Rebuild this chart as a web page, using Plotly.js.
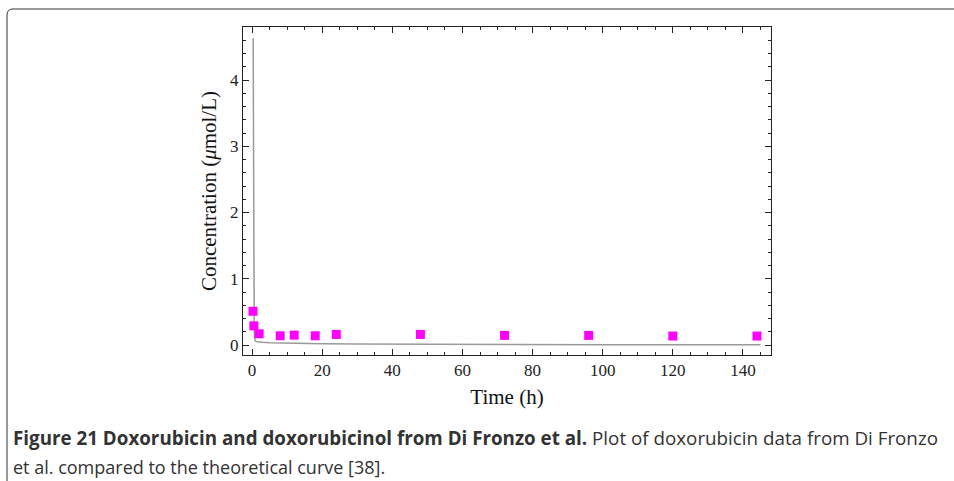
<!DOCTYPE html>
<html>
<head>
<meta charset="utf-8">
<script src="https://cdn.plot.ly/plotly-3.0.1.min.js"></script>
<style>html,body{margin:0;padding:0;background:#fff;}#chart{width:954px;height:481px;}</style>
</head>
<body>
<div id="chart"></div>
<script>
// Observed data (time in h, concentration in µmol/L)
const dataTime = [0.25, 0.5, 2, 8, 12, 18, 24, 48, 72, 96, 120, 144];
const dataConc = [0.51, 0.29, 0.17, 0.14, 0.15, 0.14, 0.16, 0.16, 0.146, 0.146, 0.136, 0.136];

// Theoretical curve
const curveTime = [0.3, 0.35, 0.4, 0.45, 0.5, 0.6, 0.8, 1, 1.5, 2, 3, 5, 8, 12, 20, 30, 45, 60, 80, 100, 120, 145];
const curveConc = [4.63, 3.2, 2.0, 1.1, 0.6, 0.2, 0.08, 0.058, 0.05, 0.046, 0.041, 0.036, 0.031, 0.027, 0.021, 0.016, 0.012, 0.009, 0.007, 0.005, 0.004, 0.003];

const xTicks = [0, 20, 40, 60, 80, 100, 120, 140];
const yTicks = [0, 1, 2, 3, 4];

const W = 954, H = 481;
const L = 243, R = 771, T = 27, B = 355;
const px = x => (x - L) / (R - L);
const py = y => (B - y) / (B - T);

const boxPath = (() => {
  const x0 = px(7), y0 = py(9), r = 6;
  return `M ${x0},${py(481)} L ${x0},${py(9 + r)} Q ${x0},${y0} ${px(7 + r)},${y0} L ${px(954)},${y0}`;
})();

const traces = [
  {
    x: curveTime, y: curveConc, type: 'scatter', mode: 'lines',
    line: {color: '#9a9a9a', width: 1.5}, hoverinfo: 'skip', showlegend: false
  },
  {
    x: dataTime, y: dataConc, type: 'scatter', mode: 'markers',
    marker: {symbol: 'square', color: '#ff00ff', size: 9, line: {width: 0}},
    showlegend: false
  }
];

const axisCommon = {
  showline: true, linecolor: '#222', linewidth: 1, mirror: 'ticks',
  ticks: 'inside', ticklen: 6, tickcolor: '#222', tickwidth: 1,
  showgrid: false, zeroline: false,
  tickfont: {family: 'Liberation Serif', size: 17, color: '#222'}
};

const layout = {
  width: W, height: H,
  margin: {l: L, r: W - R, t: T, b: H - B, pad: 0},
  paper_bgcolor: '#fff', plot_bgcolor: '#fff',
  xaxis: Object.assign({}, axisCommon, {
    range: [-2.6, 148], tickvals: xTicks, ticktext: xTicks.map(String),
    minor: {dtick: 5, tick0: 0, ticks: 'inside', ticklen: 3, tickcolor: '#222', showgrid: false},
    title: {text: 'Time (h)', font: {family: 'Liberation Serif', size: 21, color: '#111'}, standoff: 9}
  }),
  yaxis: Object.assign({}, axisCommon, {
    range: [-0.15, 4.8], tickvals: yTicks, ticktext: yTicks.map(String),
    minor: {dtick: 0.2, tick0: 0, ticks: 'inside', ticklen: 3, tickcolor: '#222', showgrid: false},
    title: {text: 'Concentration (<i>μ</i>mol/L)', font: {family: 'Liberation Serif', size: 21, color: '#111'}, standoff: 7}
  }),
  shapes: [
    {type: 'path', xref: 'paper', yref: 'paper', path: boxPath, line: {color: '#333', width: 1}}
  ],
  annotations: [
    {
      xref: 'paper', yref: 'paper', x: px(11), y: py(438), xanchor: 'left', yanchor: 'middle',
      showarrow: false, align: 'left',
      font: {family: 'Open Sans', size: 18.8, color: '#333'},
      text: '<b>Figure 21 Doxorubicin and doxorubicinol from Di Fronzo et al.</b> Plot of doxorubicin data from Di Fronzo'
    },
    {
      xref: 'paper', yref: 'paper', x: px(11), y: py(467), xanchor: 'left', yanchor: 'middle',
      showarrow: false, align: 'left',
      font: {family: 'Open Sans', size: 18, color: '#333'},
      text: 'et al. compared to the theoretical curve [38].'
    }
  ]
};

Plotly.newPlot('chart', traces, layout, {displayModeBar: false, staticPlot: true});
</script>
</body>
</html>
